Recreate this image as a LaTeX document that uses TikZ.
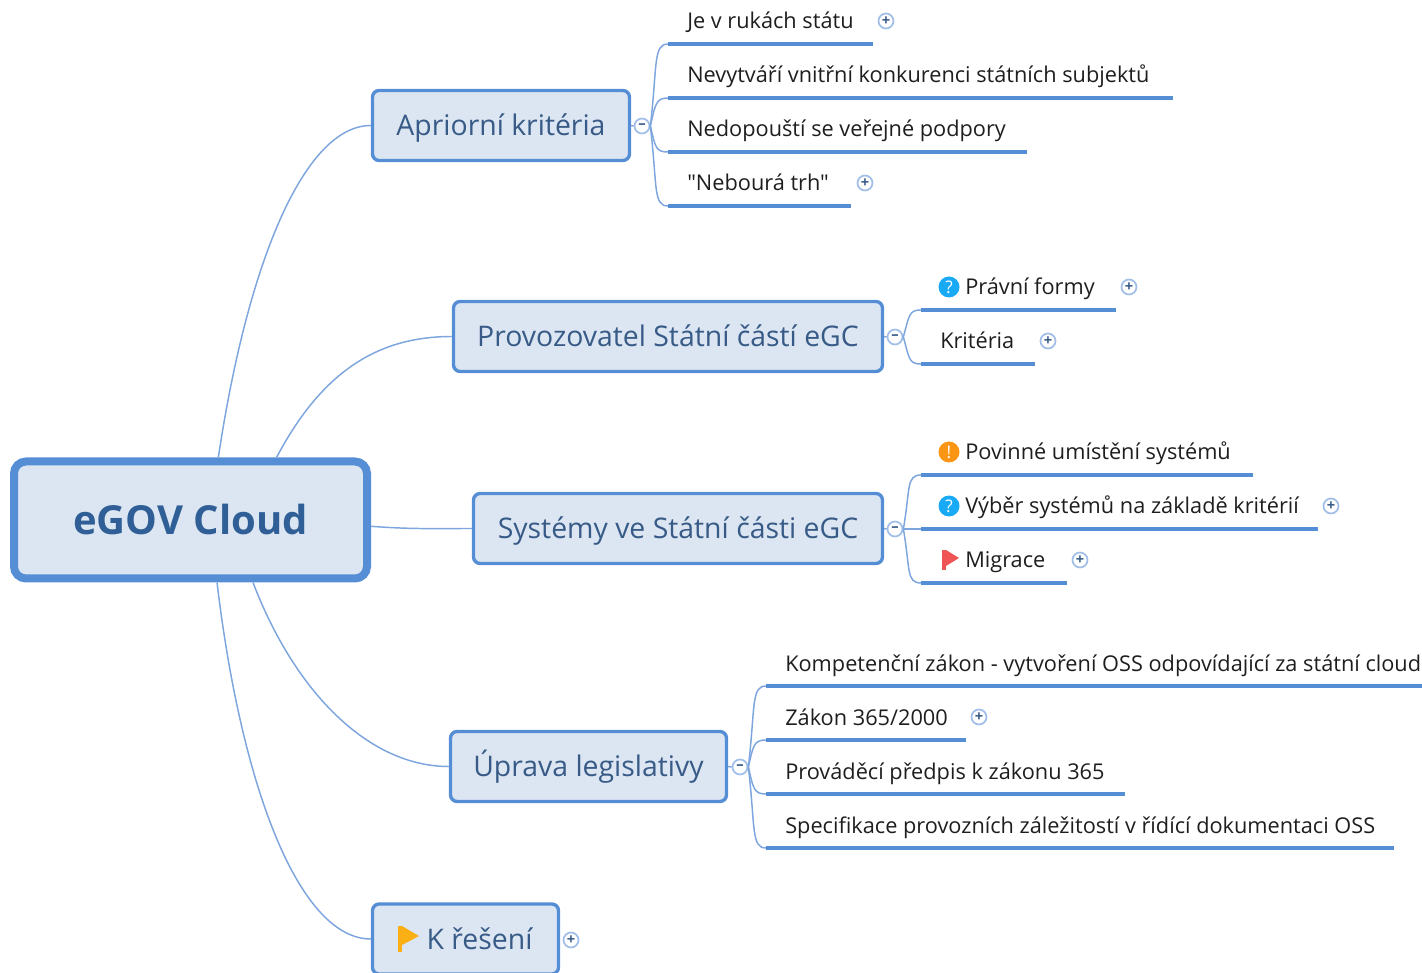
\documentclass[tikz,border=0pt]{standalone}
\usepackage{fontspec}
\setmainfont{Open Sans}[Ligatures=TeXOff]
\definecolor{topic-fill}{RGB}{220, 230, 242}
\definecolor{topic-line}{RGB}{85, 142, 213}
\definecolor{topic-text}{RGB}{55, 90, 135}
\definecolor{root-text}{RGB}{47, 95, 150}
\definecolor{branch-line}{RGB}{125, 165, 222}
\definecolor{toggle-line}{RGB}{160, 190, 232}
\definecolor{leaf-text}{RGB}{30, 30, 30}
\definecolor{flag-red}{RGB}{240, 85, 85}
\definecolor{flag-yellow}{RGB}{250, 175, 20}
\definecolor{badge-blue}{RGB}{25, 170, 245}
\definecolor{badge-orange}{RGB}{250, 150, 20}
\tikzset{
    root/.style={draw=topic-line, fill=topic-fill, rounded corners=9pt, line width=6pt, text=root-text, font=\fontsize{30}{34}\selectfont\bfseries, text height=26pt, text depth=3.5pt, minimum width=353*0.75pt, minimum height=117*0.75pt},
    topic/.style={draw=topic-line, fill=topic-fill, rounded corners=5pt, line width=2.5pt, text=topic-text, font=\fontsize{21.3}{25}\selectfont, text height=20pt, text depth=4.5pt, minimum height=70*0.75pt},
    leaf/.style={anchor=west, inner sep=0pt, text=leaf-text, font=\fontsize{16.3}{19}\selectfont, text height=15pt, text depth=3pt},
    under/.style={draw=topic-line, line width=3.2pt},
    branch/.style={draw=branch-line, line width=1.1pt},
    toggle/.style={circle, draw=toggle-line, fill=white, line width=1.3pt, inner sep=0pt, minimum size=15*0.75pt, text=topic-text, font=\fontsize{11}{11}\selectfont\bfseries},
    badge/.style={circle, inner sep=0pt, minimum size=21*0.75pt, text=white, font=\fontsize{13}{13}\selectfont}
}
\begin{document}
\begin{tikzpicture}[x=0.75pt, y=-0.75pt]
\clip (0,0) rectangle (1422,973);

\node[root] (root) at (190.5,520) {eGOV Cloud};
\node[topic, minimum width=257*0.75pt] (apr) at (501,125.5) {Apriorní kritéria};
\node[topic, minimum width=429*0.75pt] (pro) at (668,336.5) {Provozovatel Státní částí eGC};
\node[topic, minimum width=409*0.75pt] (sys) at (678,528.5) {Systémy ve Státní části eGC};
\node[topic, minimum width=276*0.75pt] (upr) at (588.5,766.5) {Úprava legislativy};
\node[topic, minimum width=186*0.75pt] (res) at (465.5,939) {\hspace*{21pt}K řešení};

\draw[branch] (root.66) .. controls +(30,-200) and +(-65,0) .. (apr.west);
\draw[branch] (root.36) .. controls +(45,-85) and +(-75,0) .. (pro.west);
\draw[branch] (root.-2) .. controls +(40,3) and +(-40,0) .. (sys.west);
\draw[branch] (root.-45) .. controls +(42,110) and +(-80,0) .. (upr.west);
\draw[branch] (root.-67) .. controls +(25,210) and +(-70,0) .. (res.west);

% Apriorni kriteria
\node[toggle] (aprm) at (642,126) {–};
\draw[branch] (apr.east) -- (aprm.west);
\node[leaf] (apr1) at (687,21) {Je v rukách státu};
\node[leaf] (apr2) at (687,75) {Nevytváří vnitřní konkurenci státních subjektů};
\node[leaf] (apr3) at (687,129) {Nedopouští se veřejné podpory};
\node[leaf] (apr4) at (687,183) {"Nebourá trh"};
\coordinate (apr1l) at (668,44);
\coordinate (apr1r) at (873,44);
\coordinate (apr2l) at (668,98);
\coordinate (apr2r) at (1173,98);
\coordinate (apr3l) at (668,152);
\coordinate (apr3r) at (1027,152);
\coordinate (apr4l) at (668,206);
\coordinate (apr4r) at (851,206);
\draw[under] (apr1l) -- (apr1r);
\draw[under] (apr2l) -- (apr2r);
\draw[under] (apr3l) -- (apr3r);
\draw[under] (apr4l) -- (apr4r);
\draw[branch] (aprm.east) .. controls +(7,-60) and +(-15,0) .. (apr1l);
\draw[branch] (aprm.east) .. controls +(5,-22) and +(-12,0) .. (apr2l);
\draw[branch] (aprm.east) .. controls +(5,22) and +(-12,0) .. (apr3l);
\draw[branch] (aprm.east) .. controls +(7,60) and +(-15,0) .. (apr4l);
\node[toggle] (apr1p) at (886,21) {+};
\node[toggle] (apr4p) at (865,183) {+};

% Provozovatel
\node[toggle] (prom) at (895,337) {–};
\draw[branch] (pro.east) -- (prom.west);
\node[badge, fill=badge-blue] (pro1i) at (949,287) {?};
\node[leaf] (pro1) at (965,287) {Právní formy};
\node[leaf] (pro2) at (940,341) {Kritéria};
\coordinate (pro1l) at (921,310);
\coordinate (pro1r) at (1116,310);
\coordinate (pro2l) at (921,364);
\coordinate (pro2r) at (1035,364);
\draw[under] (pro1l) -- (pro1r);
\draw[under] (pro2l) -- (pro2r);
\draw[branch] (prom.east) .. controls +(6,-22) and +(-12,0) .. (pro1l);
\draw[branch] (prom.east) .. controls +(6,22) and +(-12,0) .. (pro2l);
\node[toggle] (pro1p) at (1129,287) {+};
\node[toggle] (pro2p) at (1048,341) {+};

% Systemy
\node[toggle] (sysm) at (895,529) {–};
\draw[branch] (sys.east) -- (sysm.west);
\node[badge, fill=badge-orange] (sys1i) at (949,452) {!};
\node[badge, fill=badge-blue] (sys2i) at (949,506) {?};
\fill[flag-red] (942,550) rectangle (946,570);
\fill[flag-red] (946,550) -- (959,558) -- (946,566) -- cycle;
\node[leaf] (sys1) at (965,452) {Povinné umístění systémů};
\node[leaf] (sys2) at (965,506) {Výběr systémů na základě kritérií};
\node[leaf] (sys3) at (965,560) {Migrace};
\coordinate (sys1l) at (921,475);
\coordinate (sys1r) at (1253,475);
\coordinate (sys2l) at (921,529);
\coordinate (sys2r) at (1318,529);
\coordinate (sys3l) at (921,583);
\coordinate (sys3r) at (1067,583);
\draw[under] (sys1l) -- (sys1r);
\draw[under] (sys2l) -- (sys2r);
\draw[under] (sys3l) -- (sys3r);
\draw[branch] (sysm.east) .. controls +(7,-40) and +(-15,0) .. (sys1l);
\draw[branch] (sysm.east) -- (sys2l);
\draw[branch] (sysm.east) .. controls +(7,40) and +(-15,0) .. (sys3l);
\node[toggle] (sys2p) at (1331,506) {+};
\node[toggle] (sys3p) at (1080,560) {+};

% Uprava legislativy
\node[toggle] (uprm) at (740,767) {–};
\draw[branch] (upr.east) -- (uprm.west);
\node[leaf] (upr1) at (785,663) {Kompetenční zákon - vytvoření OSS odpovídající za státní cloud};
\node[leaf] (upr2) at (785,717) {Zákon 365/2000};
\node[leaf] (upr3) at (785,771) {Prováděcí předpis k zákonu 365};
\node[leaf] (upr4) at (785,825) {Specifikace provozních záležitostí v řídící dokumentaci OSS};
\coordinate (upr1l) at (766,686);
\coordinate (upr1r) at (1422,686);
\coordinate (upr2l) at (766,740);
\coordinate (upr2r) at (966,740);
\coordinate (upr3l) at (766,794);
\coordinate (upr3r) at (1125,794);
\coordinate (upr4l) at (766,848);
\coordinate (upr4r) at (1394,848);
\draw[under] (upr1l) -- (upr1r);
\draw[under] (upr2l) -- (upr2r);
\draw[under] (upr3l) -- (upr3r);
\draw[under] (upr4l) -- (upr4r);
\draw[branch] (uprm.east) .. controls +(7,-60) and +(-15,0) .. (upr1l);
\draw[branch] (uprm.east) .. controls +(5,-22) and +(-12,0) .. (upr2l);
\draw[branch] (uprm.east) .. controls +(5,22) and +(-12,0) .. (upr3l);
\draw[branch] (uprm.east) .. controls +(7,60) and +(-15,0) .. (upr4l);
\node[toggle] (upr2p) at (979,717) {+};

% K reseni
\fill[flag-yellow] (398,926) rectangle (402,952);
\fill[flag-yellow] (402,926) -- (419,936) -- (402,945) -- cycle;
\node[toggle] (resp) at (571,940) {+};
\end{tikzpicture}
\end{document}
